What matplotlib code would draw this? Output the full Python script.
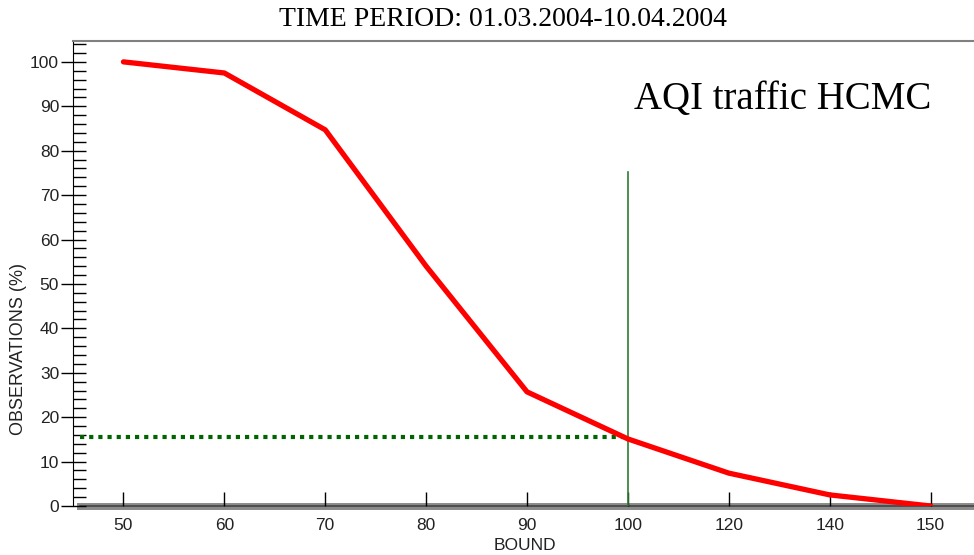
import matplotlib
matplotlib.use("Agg")
import matplotlib.pyplot as plt
from matplotlib.ticker import MultipleLocator

# Data
bounds = ["50", "60", "70", "80", "90", "100", "120", "140", "150"]
observations = [100, 97.5, 84.7, 54, 25.7, 15.1, 7.4, 2.5, 0]
limit_index = 5          # position of bound 100
limit_top = 75.2
limit_level = 15.5

fig = plt.figure(figsize=(9.74, 5.55), dpi=100)
ax = fig.add_axes([73 / 974, 1 - 506 / 555, 1 - 73 / 974, (506 - 41) / 555])

x = list(range(len(bounds)))
ax.plot(x, observations, color="#ff0000", linewidth=3.8, solid_capstyle="round", zorder=3)

# reference lines
ax.plot([limit_index, limit_index], [0, limit_top], color="#2e7d32", linewidth=1.2, zorder=2)
ax.plot([-0.43, limit_index], [limit_level, limit_level], color="#006400",
        linewidth=3, linestyle=(0, (1, 1.2)), zorder=2)

ax.set_xlim(-0.5, 8.43)
ax.set_ylim(0, 104.7)

ax.set_xticks(x)
ax.set_xticklabels(bounds)
ax.yaxis.set_major_locator(MultipleLocator(10))
ax.yaxis.set_minor_locator(MultipleLocator(2))

ax.tick_params(axis="x", direction="in", length=10, width=1, pad=9,
               labelsize=12.5, colors="black")
ax.tick_params(axis="y", which="major", direction="inout", length=18, width=1,
               labelsize=12.5, pad=1)
ax.tick_params(axis="y", which="minor", direction="in", length=9, width=1)
for lbl in ax.get_xticklabels() + ax.get_yticklabels():
    lbl.set_fontfamily("Liberation Sans")
    lbl.set_color("#222222")

ax.spines["right"].set_visible(False)
ax.spines["top"].set_color("#808080")
ax.spines["top"].set_linewidth(1.5)
ax.spines["left"].set_color("black")
ax.spines["bottom"].set_visible(False)

# thick gray base line
ax.axhline(0, xmin=0.008, xmax=1, color="#8a8a8a", linewidth=5, clip_on=False, zorder=1)
ax.axhline(0, xmin=0.008, xmax=1, color="#444444", linewidth=1.2, clip_on=False, zorder=1)

fig.text(503 / 974, 1 - 20 / 555, "TIME PERIOD: 01.03.2004-10.04.2004",
         family="Liberation Serif", fontsize=20, ha="center", va="center")
ax.text(0.623, 0.875, "AQI traffic HCMC", transform=ax.transAxes,
        family="Liberation Serif", fontsize=28, ha="left", va="center")
fig.text(525 / 974, 1 - 545 / 555, "BOUND", family="Liberation Sans",
         fontsize=12.5, ha="center", va="center", color="#222222")
fig.text(19 / 974, 1 - 349 / 555, "OBSERVATIONS (%)", family="Liberation Sans",
         fontsize=13, ha="center", va="center", rotation=90, color="#222222")

fig.savefig("out.png", dpi=100)
